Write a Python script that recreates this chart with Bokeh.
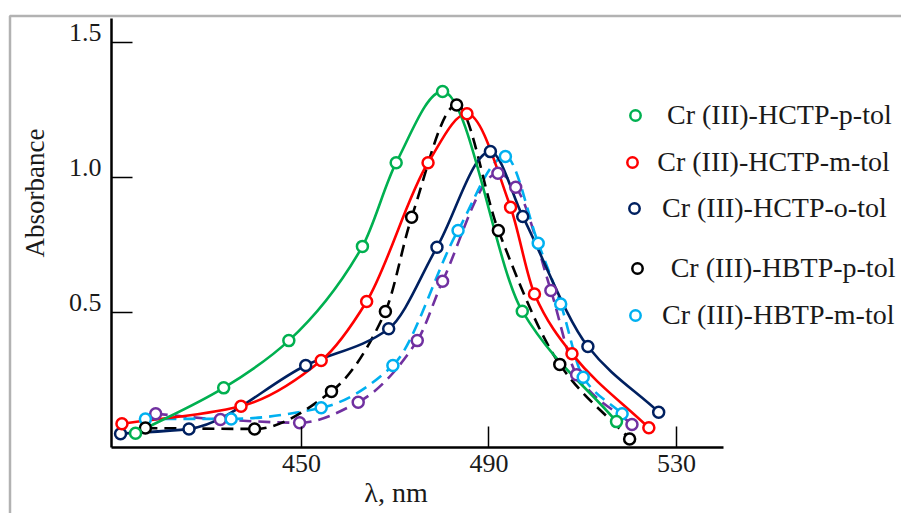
import math
from bokeh.plotting import figure
from bokeh.models import (Range1d, LinearAxis, FixedTicker, Legend, LegendItem,
                          Label, BoxAnnotation)
from bokeh.embed import file_html
from bokeh.resources import INLINE

# ---------------- data ----------------
x_ticks = [450, 490, 530]
x_tick_labels = ["450", "490", "530"]
y_ticks = [0.5, 1.0, 1.5]
y_tick_labels = ["0.5", "1.0", "1.5"]

hctp_p_x = [414.6, 433.4, 447.3, 463.0, 470.2, 480.1, 497.1, 517.2]
hctp_p_y = [0.054, 0.222, 0.397, 0.746, 1.056, 1.320, 0.506, 0.097]

hctp_m_x = [411.7, 437.1, 454.2, 463.9, 477.0, 485.3, 494.6, 499.7, 507.7, 524.1]
hctp_m_y = [0.089, 0.154, 0.323, 0.542, 1.056, 1.237, 0.891, 0.570, 0.348, 0.074]

hctp_o_x = [411.4, 426.0, 450.9, 468.6, 478.9, 490.3, 497.2, 511.1, 526.2]
hctp_o_y = [0.052, 0.070, 0.305, 0.441, 0.743, 1.097, 0.857, 0.375, 0.132]

hbtp_p_x = [416.7, 440.0, 456.4, 467.9, 473.5, 483.1, 492.0, 505.1, 520.0]
hbtp_p_y = [0.073, 0.070, 0.209, 0.505, 0.854, 1.270, 0.805, 0.309, 0.033]

hbtp_m_x = [416.7, 435.0, 454.2, 469.5, 483.4, 493.5, 500.5, 505.3, 510.1, 518.4]
hbtp_m_y = [0.107, 0.107, 0.148, 0.305, 0.805, 1.079, 0.758, 0.533, 0.261, 0.126]

purple_x = [418.9, 432.7, 449.6, 462.1, 474.7, 480.1, 491.9, 495.7, 503.2, 508.7, 520.5]
purple_y = [0.126, 0.105, 0.093, 0.169, 0.397, 0.617, 1.017, 0.965, 0.583, 0.271, 0.086]

labels = ["Cr (III)-HCTP-p-tol", "Cr (III)-HCTP-m-tol", "Cr (III)-HCTP-o-tol",
          "Cr (III)-HBTP-p-tol", "Cr (III)-HBTP-m-tol"]

x_axis_span = (409.47, 540.03)
y_axis_span = (0.0, 1.59)

FONT = "Liberation Serif"
TXT = "#1a1a1a"
W, H = 901, 513


def smooth(xs, ys):
    """Shape-preserving (monotone) cubic through the points, as Bezier segments."""
    n = len(xs)
    h = [xs[k + 1] - xs[k] for k in range(n - 1)]
    d = [(ys[k + 1] - ys[k]) / h[k] for k in range(n - 1)]
    m = [0.0] * n
    m[0], m[-1] = d[0], d[-1]
    for k in range(1, n - 1):
        if d[k - 1] * d[k] <= 0:
            m[k] = 0.0
        else:
            w1 = 2 * h[k] + h[k - 1]
            w2 = h[k] + 2 * h[k - 1]
            m[k] = (w1 + w2) / (w1 / d[k - 1] + w2 / d[k])
    out = {k: [] for k in ("x0", "y0", "x1", "y1", "cx0", "cy0", "cx1", "cy1")}
    for k in range(n - 1):
        out["x0"].append(xs[k]); out["y0"].append(ys[k])
        out["x1"].append(xs[k + 1]); out["y1"].append(ys[k + 1])
        out["cx0"].append(xs[k] + h[k] / 3.0)
        out["cy0"].append(ys[k] + m[k] * h[k] / 3.0)
        out["cx1"].append(xs[k + 1] - h[k] / 3.0)
        out["cy1"].append(ys[k + 1] - m[k + 1] * h[k] / 3.0)
    return out


p = figure(width=W, height=H, output_backend="svg", toolbar_location=None,
           x_range=Range1d(385.79, 578.0), y_range=Range1d(-0.2433, 1.6567),
           x_axis_location=None, y_axis_location=None,
           min_border_left=0, min_border_right=0, min_border_top=0, min_border_bottom=0)
p.outline_line_color = None
for g in p.grid:
    g.visible = False
p.background_fill_color = "white"
p.border_fill_color = "white"

# axes (drawn at fixed data locations, limited to the span of the picture's axes)
xaxis = LinearAxis(ticker=FixedTicker(ticks=x_ticks), fixed_location=0.0,
                   bounds=x_axis_span,
                   major_label_overrides={t: s for t, s in zip(x_ticks, x_tick_labels)},
                   major_tick_in=21, major_tick_out=0, minor_tick_line_color=None,
                   axis_line_width=2.5, axis_line_color="black",
                   major_tick_line_width=1.5, major_tick_line_color="black",
                   major_label_text_font=FONT, major_label_text_font_size="26px",
                   major_label_text_color=TXT, major_label_standoff=7)
p.add_layout(xaxis, "below")

yaxis = LinearAxis(ticker=FixedTicker(ticks=y_ticks), fixed_location=x_axis_span[0],
                   bounds=y_axis_span,
                   major_tick_in=21, major_tick_out=0, minor_tick_line_color=None,
                   axis_line_width=2.5, axis_line_color="black",
                   major_tick_line_width=1.5, major_tick_line_color="black",
                   major_label_text_color=None)
p.add_layout(yaxis, "left")

# tick labels of the y axis sit just above their ticks in the picture
lab_shift = 0.040
p.extra_y_ranges = {"lab": Range1d(-0.2433 - lab_shift, 1.6567 - lab_shift)}
ylab = LinearAxis(y_range_name="lab", ticker=FixedTicker(ticks=y_ticks),
                  fixed_location=x_axis_span[0],
                  major_label_overrides={t: s for t, s in zip(y_ticks, y_tick_labels)},
                  axis_line_color=None, major_tick_line_color=None,
                  minor_tick_line_color=None, major_tick_out=0, major_tick_in=0,
                  major_label_text_font=FONT, major_label_text_font_size="26px",
                  major_label_text_color=TXT, major_label_standoff=10)
p.add_layout(ylab, "left")

series = [
    (hctp_p_x, hctp_p_y, "#00b050", "solid"),
    (hctp_m_x, hctp_m_y, "#ff0000", "solid"),
    (hctp_o_x, hctp_o_y, "#002060", "solid"),
    (hbtp_p_x, hbtp_p_y, "#000000", "12 7"),
    (hbtp_m_x, hbtp_m_y, "#00b0f0", "12 7"),
    (purple_x, purple_y, "#7030a0", "12 7"),
]

draw_order = [5, 4, 3, 2, 1, 0]
for i in draw_order:
    xs, ys, col, dash = series[i]
    b = smooth(xs, ys)
    p.bezier(x0=b["x0"], y0=b["y0"], x1=b["x1"], y1=b["y1"],
             cx0=b["cx0"], cy0=b["cy0"], cx1=b["cx1"], cy1=b["cy1"],
             line_color=col, line_width=2.6, line_dash=dash)

marker_r = {}
for i in draw_order:
    xs, ys, col, dash = series[i]
    marker_r[i] = p.scatter(xs, ys, marker="circle", size=11, line_color=col,
                            line_width=2.5, fill_color="white")

# legends (one per entry, to follow the uneven spacing of the picture)
GW, GH = 26, 36
leg_pos = [(635, 115, 19), (632.3, 161.7, 12), (634, 208.3, 15),
           (636.7, 268.3, 21), (635, 315, 14)]
for i, (gx, gy, st) in enumerate(leg_pos):
    leg = Legend(items=[LegendItem(label=labels[i], renderers=[marker_r[i]])],
                 location=(gx - GW / 2, H - (gy + GH / 2)), padding=0, margin=0,
                 spacing=0, border_line_color=None, background_fill_alpha=0,
                 glyph_width=GW, glyph_height=GH, label_height=20,
                 label_standoff=st, label_text_font=FONT,
                 label_text_font_size="28px", label_text_color=TXT)
    p.add_layout(leg)

# axis titles
p.add_layout(Label(x=395.5, y=H - 491.5, x_units="screen", y_units="screen",
                   text="λ, nm", text_font=FONT, text_font_size="28px",
                   text_color=TXT, text_align="center", text_baseline="middle"))
p.add_layout(Label(x=34.2, y=H - 192.5, x_units="screen", y_units="screen",
                   text="Absorbance", angle=math.pi / 2, text_font=FONT,
                   text_font_size="27px", text_color=TXT, text_align="center",
                   text_baseline="middle"))

# outer frame of the picture (open at right and bottom)
p.add_layout(BoxAnnotation(left=9.5, right=W + 40, top=H - 15.5, bottom=-40,
                           left_units="screen", right_units="screen",
                           top_units="screen", bottom_units="screen",
                           fill_color=None, fill_alpha=0, line_color="black",
                           line_width=2.5, level="overlay"))

open("out.html", "w").write(file_html(p, INLINE))
